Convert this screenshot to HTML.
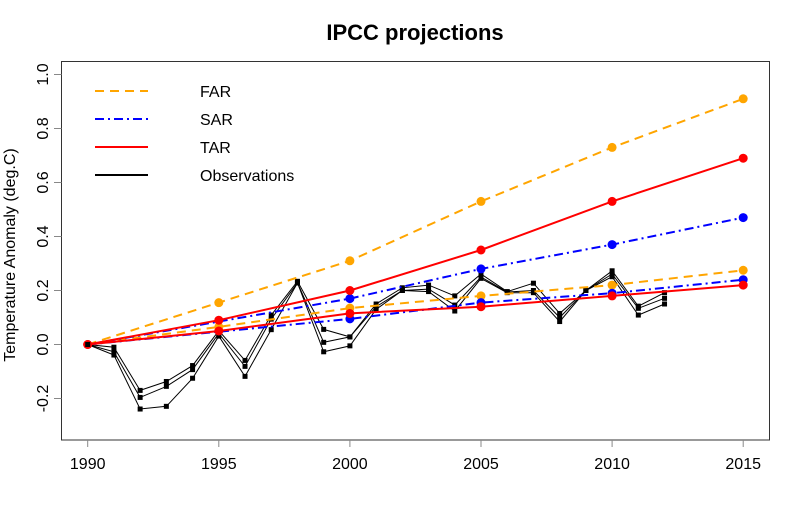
<!DOCTYPE html>
<html><head><meta charset="utf-8"><style>
html,body{margin:0;padding:0;background:#fff;}
svg{display:block;font-family:"Liberation Sans",Arial,sans-serif;}
</style></head><body>
<svg id="chart" width="800" height="516" viewBox="0 0 800 516">
<text x="415" y="40" text-anchor="middle" font-size="22" font-weight="bold">IPCC projections</text>
<text transform="translate(15,255) rotate(-90)" text-anchor="middle" font-size="16">Temperature Anomaly (deg.C)</text>
<rect x="61.5" y="61.5" width="708" height="378.5" fill="none" stroke="#333" stroke-width="1"/>
<g id="axes"></g>
<g id="series"></g>
<g id="legend">
<line x1="95" y1="91" x2="148" y2="91" stroke="#FFA500" stroke-width="2" stroke-dasharray="9,6"/>
<text x="200" y="97" font-size="16">FAR</text>
<line x1="95" y1="119" x2="148" y2="119" stroke="#0000FF" stroke-width="2" stroke-dasharray="9,4,2,4"/>
<text x="200" y="125" font-size="16">SAR</text>
<line x1="95" y1="147" x2="148" y2="147" stroke="#FF0000" stroke-width="2"/>
<text x="200" y="153" font-size="16">TAR</text>
<line x1="95" y1="175" x2="148" y2="175" stroke="#000" stroke-width="2"/>
<text x="200" y="181" font-size="16">Observations</text>
</g>
</svg>
<script>
const xTicks = [1990, 1995, 2000, 2005, 2010, 2015];
const yTicks = [-0.2, 0.0, 0.2, 0.4, 0.6, 0.8, 1.0];
const projYears = [1990, 1995, 2000, 2005, 2010, 2015];
const farHigh = [0, 0.155, 0.31, 0.53, 0.73, 0.91];
const farLow = [0, 0.065, 0.135, 0.18, 0.22, 0.275];
const tarHigh = [0, 0.09, 0.20, 0.35, 0.53, 0.69];
const tarLow = [0, 0.05, 0.115, 0.14, 0.18, 0.22];
const sarYears = [1990, 2000, 2005, 2010, 2015];
const sarHigh = [0, 0.17, 0.28, 0.37, 0.47];
const sarLow = [0, 0.095, 0.155, 0.19, 0.24];
const obsYears = [1990,1991,1992,1993,1994,1995,1996,1997,1998,1999,2000,2001,2002,2003,2004,2005,2006,2007,2008,2009,2010,2011,2012];
const obsA = [0,-0.010,-0.170,-0.137,-0.078,0.051,-0.059,0.109,0.234,0.056,0.028,0.15,0.21,0.22,0.18,0.261,0.196,0.227,0.115,0.2,0.273,0.142,0.192];
const obsB = [0,-0.027,-0.196,-0.155,-0.093,0.041,-0.081,0.094,0.228,0.008,0.028,0.14,0.20,0.205,0.146,0.25,0.194,0.2,0.10,0.2,0.261,0.134,0.171];
const obsC = [0,-0.039,-0.239,-0.229,-0.125,0.031,-0.118,0.055,0.228,-0.027,-0.005,0.13,0.20,0.196,0.124,0.245,0.192,0.192,0.085,0.2,0.251,0.109,0.15];

const NS = "http://www.w3.org/2000/svg";
function xs(yr){ return 87.7 + (yr - 1990) * 26.22; }
function ys(v){ return 344.5 - v * 270; }
function mk(tag, attrs, parent){
  const el = document.createElementNS(NS, tag);
  for (const k in attrs) el.setAttribute(k, attrs[k]);
  parent.appendChild(el);
  return el;
}
const axes = document.getElementById('axes');
const series = document.getElementById('series');

xTicks.forEach(t => {
  const ln = mk('line', {x1: xs(t), x2: xs(t), y1: 440, y2: 447, stroke: '#888'}, axes);
  
  
  const tx = mk('text', {x: xs(t), y: 469, 'text-anchor': 'middle', 'font-size': 16}, axes);
  tx.textContent = t;
  
  
});
yTicks.forEach(t => {
  const ln = mk('line', {x1: 54, x2: 61.5, y1: ys(t), y2: ys(t), stroke: '#888'}, axes);
  
  
  const tx = mk('text', {transform: 'translate(48,' + ys(t) + ') rotate(-90)', 'text-anchor': 'middle', 'font-size': 16}, axes);
  tx.textContent = t.toFixed(1);
  
  
});

function pts(years, vals){ return years.map((y, i) => xs(y).toFixed(1) + ',' + ys(vals[i]).toFixed(1)).join(' '); }

function drawObs(vals, name){
  const pl = mk('polyline', {points: pts(obsYears, vals), fill: 'none', stroke: '#000', 'stroke-width': 1}, series);
  
  
  obsYears.forEach((y, i) => {
    const r = mk('rect', {x: xs(y) - 2.5, y: ys(vals[i]) - 2.5, width: 5, height: 5, fill: '#000'}, series);
    
    
  });
}
drawObs(obsA, 'observations-a');
drawObs(obsB, 'observations-b');
drawObs(obsC, 'observations-c');

function drawProj(years, vals, color, dash, name, firstDot){
  const pl = mk('polyline', {points: pts(years, vals), fill: 'none', stroke: color, 'stroke-width': 2, 'stroke-dasharray': dash}, series);
  
  
  years.forEach((y, i) => {
    if (i < firstDot) return;
    const c = mk('circle', {cx: xs(y), cy: ys(vals[i]), r: 4.5, fill: color}, series);
    
    
  });
}
drawProj(projYears, farHigh, '#FFA500', '9,6', 'far-high', 1);
drawProj(projYears, farLow, '#FFA500', '9,6', 'far-low', 1);
drawProj(sarYears, sarHigh, '#0000FF', '9,4,2,4', 'sar-high', 1);
drawProj(sarYears, sarLow, '#0000FF', '9,4,2,4', 'sar-low', 1);
drawProj(projYears, tarHigh, '#FF0000', 'none', 'tar-high', 0);
drawProj(projYears, tarLow, '#FF0000', 'none', 'tar-low', 0);
const o = mk('rect', {x: xs(1990) - 2.5, y: ys(0) - 2.5, width: 5, height: 5, fill: '#000'}, series);


</script>
</body></html>
